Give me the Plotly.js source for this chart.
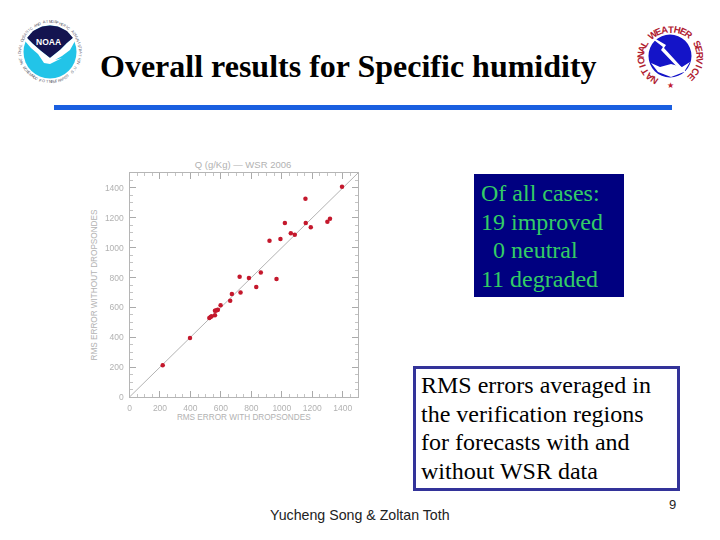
<!DOCTYPE html>
<html><head><meta charset="utf-8">
<script src="https://cdn.plot.ly/plotly-3.0.1.min.js"></script>
<style>html,body{margin:0;padding:0;background:#fff}</style></head>
<body><div id="chart" style="width:720px;height:540px"></div>
<script>
const withDropsondes = [218,397,524,532,539,561,561,568,576,580,598,661,672,729,723,784,832,862,965,919,991,1020,1059,1085,1157,1190,1155,1299,1316,1395];
const withoutDropsondes = [212,395,529,535,540,547,578,580,582,584,614,645,690,699,806,797,737,833,790,1047,1058,1165,1096,1087,1165,1136,1328,1174,1194,1408];
const diagonalEnds = [0,1500];
const axisTicks = [0,200,400,600,800,1000,1200,1400];
const boxOneLines = ['Of all cases:','19 improved','&nbsp;&nbsp;0 neutral','11 degraded'];
const boxTwoLines = ['RMS errors averaged in','the verification regions','for forecasts with and','without WSR data'];

const W=720,H=540, px=x=>x/W, py=y=>1-y/H;
const shapes=[], annotations=[];
const rect=(x0,y0,x1,y1,fill,line,lw)=>shapes.push({type:'rect',xref:'paper',yref:'paper',x0:px(x0),x1:px(x1),y0:py(y0),y1:py(y1),fillcolor:fill,line:{color:line||fill,width:lw||0},layer:'below'});
const circ=(cx,cy,r,fill)=>shapes.push({type:'circle',xref:'paper',yref:'paper',x0:px(cx-r),x1:px(cx+r),y0:py(cy-r),y1:py(cy+r),fillcolor:fill,line:{width:0},layer:'below'});
const poly=(pts,fill)=>shapes.push({type:'path',xref:'paper',yref:'paper',path:'M'+pts.map(p=>px(p[0])+','+py(p[1])).join('L')+'Z',fillcolor:fill,line:{width:0},layer:'below'});
const text=(x,y,t,size,color,family,opt)=>annotations.push(Object.assign({xref:'paper',yref:'paper',x:px(x),y:py(y),text:t,showarrow:false,xanchor:'left',yanchor:'middle',align:'left',font:{size,color,family},borderpad:0},opt||{}));
const ring=(str,cx,cy,rx,ry,a0,a1,size,color,flip,bold)=>{[...str].forEach((c,i)=>{ if(c===' ')return;
  const a=a0+i*(a1-a0)/(str.length-1), r=a*Math.PI/180;
  annotations.push({xref:'paper',yref:'paper',x:px(cx+rx*Math.sin(r)),y:py(cy-ry*Math.cos(r)),text:bold?'<b>'+c+'</b>':c,showarrow:false,textangle:flip?a-180:a,xanchor:'center',yanchor:'middle',borderpad:0,font:{size,color,family:SANS}});
});};
const SERIF='"Liberation Serif",serif', SANS='"Liberation Sans",sans-serif', GREY='#b2b2b2';

// Slide furniture
rect(54,105,672,110,'#1a5fe0');
text(99,66.5,'<b>Overall results for Specific humidity</b>',32,'#000',SERIF);
rect(474,174,624,297,'#000080');
boxOneLines.forEach((s,i)=>text(479.5,193+i*28.7,s,24,'#33cc66',SERIF));
rect(414.5,367.5,678.5,489.5,'#fff','#333399',3);
boxTwoLines.forEach((s,i)=>text(420,385+i*28.6,s,24,'#000',SERIF));
text(269,515,'Yucheng Song &amp; Zoltan Toth',14.2,'#222',SANS);
text(672.5,504,'9',13,'#222',SANS,{xanchor:'center'});

// NOAA logo
const nx=50,ny=52,nr=26.5;
circ(nx,ny,nr,'#22c4e8');
poly([[27,38],[33,31],[42,26.5],[50,25.5],[58,26.5],[67,31],[73,38],[67,43],[60,50],[50,58],[41,51],[33,44]],'#141450');
poly([[25,41],[27,38],[33,44],[41,51],[50,58],[60,50],[67,43],[73,38],[75,41],[70,50],[62,56],[55,60],[62,58],[50,64],[44,63],[38,54],[31,48]],'#fff');
text(49,42,'<b>NOAA</b>',8.5,'#fff',SANS,{xanchor:'center'});
ring('NATIONAL OCEANIC AND ATMOSPHERIC ADMINISTRATION',nx,ny,30,30,-112,112,3.8,'#556');
ring('U.S. DEPARTMENT OF COMMERCE',nx,ny,30,30,122,238,3.8,'#556',true);

// NWS logo
const wx=670,wy=56;
circ(wx,wy,21.5,'#1414c8');
poly([[651,63],[660,67],[671,64],[682,67],[690,62],[684,72],[671,77],[658,72]],'#fff');
poly([[654,38],[666,45],[664,48],[686,72],[682,72],[661,50],[663,47],[654,40]],'#fff');
ring('NATIONAL WEATHER SERVICE',wx+0.5,wy+1,30,28,-146,135,9.5,'#b02030',false,true);
text(wx,85,'★',8,'#c02030',SANS,{xanchor:'center'});

const axisBase={range:[0,1500],tickmode:'array',tickvals:axisTicks,ticktext:axisTicks.map(String),ticks:'inside',ticklen:6,tickwidth:1,tickcolor:'#aaa',
  showline:true,linecolor:'#b5b5b5',linewidth:1,mirror:'ticks',showgrid:false,zeroline:false,ticklabelstandoff:3,
  tickfont:{size:8.5,color:GREY,family:SANS},
  minor:{dtick:50,tick0:0,ticks:'inside',ticklen:3,tickcolor:'#c4c4c4',tickwidth:1,showgrid:false}};

const traces=[
 {x:diagonalEnds,y:diagonalEnds,mode:'lines',line:{color:'#a0a0a0',width:0.8},hoverinfo:'skip',showlegend:false},
 {x:withDropsondes,y:withoutDropsondes,mode:'markers',marker:{color:'#c4182c',size:4.5},showlegend:false}
];
const layout={width:W,height:H,margin:{l:0,r:0,t:0,b:0},paper_bgcolor:'#fff',plot_bgcolor:'#fff',showlegend:false,
 title:{text:'Q (g/Kg) — WSR 2006',font:{size:9.5,color:GREY,family:SANS},x:243/W,xanchor:'center',y:py(165),yanchor:'middle'},
 xaxis:Object.assign({},axisBase,{domain:[px(129.5),px(358)],title:{text:'RMS ERROR WITH DROPSONDES',font:{size:8.2,color:GREY,family:SANS},standoff:1}}),
 yaxis:Object.assign({},axisBase,{domain:[py(397),py(173)],title:{text:'RMS ERROR WITHOUT DROPSONDES',font:{size:8.2,color:GREY,family:SANS},standoff:6}}),
 shapes,annotations};
Plotly.newPlot('chart',traces,layout,{displayModeBar:false,staticPlot:true}).then(()=>{
  const g=document.querySelector('.cartesianlayer'); if(g) g.style.filter='blur(0.45px)';
});
</script></body></html>
